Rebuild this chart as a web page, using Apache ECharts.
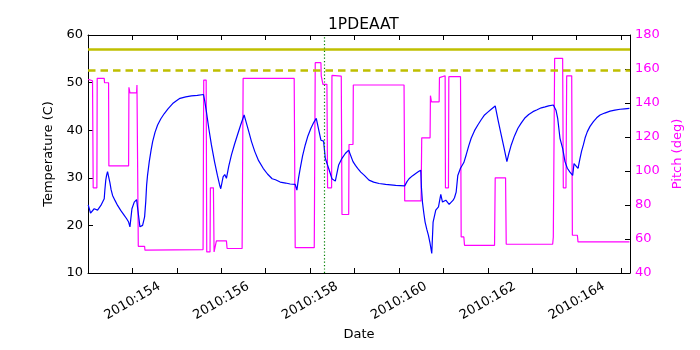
<!DOCTYPE html>
<html lang="en">
<head>
	<meta charset="UTF-8">
	<title>1PDEAAT</title>
	<script src="https://cdn.jsdelivr.net/npm/echarts@6/dist/echarts.min.js"></script>
	<style>
		* { margin: 0; padding: 0; }
		#container { width: 700px; height: 350px; background: #fff; }
	</style>
</head>
<body>
<div id="container"></div>
<script type="text/javascript">
	// day of year 2010 (fractional) -> temperature (C)
	var tempTime = [153.005, 153.057, 153.139, 153.215, 153.290, 153.365, 153.380, 153.400, 153.418, 153.440,
		153.462, 153.493, 153.520, 153.553, 153.610, 153.666, 153.740, 153.816, 153.870, 153.914,
		153.944, 153.989, 154.041, 154.094, 154.124, 154.169, 154.229, 154.274, 154.300, 154.319,
		154.340, 154.379, 154.420, 154.455, 154.510, 154.567, 154.640, 154.718, 154.800, 154.906,
		154.990, 155.071, 155.200, 155.327, 155.460, 155.600, 155.630, 155.665, 155.720, 155.778,
		155.850, 155.913, 155.960, 155.988, 156.041, 156.078, 156.116, 156.170, 156.229, 156.300,
		156.364, 156.440, 156.514, 156.550, 156.619, 156.680, 156.755, 156.840, 156.943, 157.040,
		157.145, 157.220, 157.326, 157.450, 157.550, 157.664, 157.702, 157.740, 157.777, 157.830,
		157.890, 157.950, 158.018, 158.080, 158.138, 158.243, 158.303, 158.341, 158.416, 158.491,
		158.567, 158.604, 158.642, 158.717, 158.792, 158.868, 158.965, 159.020, 159.070, 159.140,
		159.221, 159.325, 159.430, 159.551, 159.700, 159.926, 160.129, 160.180, 160.227, 160.300,
		160.377, 160.440, 160.490, 160.505, 160.528, 160.560, 160.588, 160.625, 160.663, 160.700,
		160.738, 160.768, 160.828, 160.889, 160.941, 160.979, 161.054, 161.129, 161.220, 161.249,
		161.287, 161.324, 161.384, 161.414, 161.460, 161.512, 161.570, 161.625, 161.700, 161.775,
		161.850, 161.926, 162.000, 162.076, 162.166, 162.230, 162.301, 162.360, 162.429, 162.470,
		162.527, 162.600, 162.677, 162.750, 162.827, 162.920, 163.015, 163.110, 163.203, 163.290,
		163.368, 163.474, 163.489, 163.534, 163.572, 163.624, 163.684, 163.737, 163.789, 163.849,
		163.910, 163.940, 163.985, 164.030, 164.075, 164.110, 164.150, 164.190, 164.240, 164.300,
		164.376, 164.450, 164.526, 164.630, 164.752, 164.860, 164.977, 165.080, 165.187];
	var tempVal = [24.3, 22.6, 23.5, 23.2, 24.2, 25.6, 27.5, 29.5, 30.5, 31.3,
		31.7, 29.0, 27.5, 26.3, 25.2, 24.2, 23.1, 22.1, 21.4, 20.7,
		19.7, 23.5, 24.9, 25.4, 25.0, 19.7, 20.0, 21.8, 25.0, 28.4,
		30.5, 33.4, 35.8, 37.6, 39.6, 41.1, 42.4, 43.5, 44.5, 45.6,
		46.2, 46.7, 47.0, 47.2, 47.3, 47.5, 46.0, 43.9, 40.3, 36.9,
		33.3, 30.5, 28.6, 27.7, 30.2, 30.7, 29.9, 32.5, 34.8, 37.1,
		39.0, 41.2, 43.2, 42.0, 39.7, 37.6, 35.5, 33.6, 32.0, 30.8,
		29.8, 29.6, 29.1, 28.9, 28.7, 28.6, 27.4, 30.0, 32.0, 34.6,
		36.9, 38.8, 40.4, 41.6, 42.5, 37.9, 37.7, 34.1, 32.0, 29.8,
		29.3, 29.2, 32.7, 34.1, 35.1, 35.8, 33.4, 32.6, 32.0, 31.2,
		30.5, 29.5, 29.1, 28.8, 28.6, 28.4, 28.3, 29.2, 29.8, 30.4,
		30.9, 31.3, 31.6, 28.0, 24.9, 22.5, 20.7, 19.2, 17.9, 16.2,
		14.1, 20.7, 23.2, 23.9, 26.5, 24.9, 25.3, 24.4, 25.3, 25.8,
		27.0, 30.5, 32.0, 31.7, 33.2, 34.8, 36.7, 38.3, 39.9, 41.1,
		42.2, 43.2, 43.8, 44.4, 45.1, 42.1, 39.0, 36.5, 33.4, 35.0,
		36.9, 38.8, 40.4, 41.5, 42.5, 43.3, 43.9, 44.3, 44.7, 44.9,
		45.1, 45.3, 45.1, 44.2, 42.5, 38.3, 36.2, 33.4, 32.0, 31.2,
		30.5, 33.0, 33.0, 32.0, 34.1, 35.6, 36.9, 38.4, 39.7, 40.8,
		41.8, 42.6, 43.2, 43.6, 44.0, 44.2, 44.4, 44.5, 44.6];

	// day of year 2010 (fractional) -> pitch (deg), step-like
	var pitchTime = [153.005, 153.102, 153.117, 153.117, 153.200, 153.207, 153.365, 153.372, 153.463, 153.470,
		153.914, 153.921, 153.944, 154.094, 154.102, 154.125, 154.132, 154.274, 154.282, 155.590,
		155.605, 155.660, 155.673, 155.747, 155.755, 155.823, 155.838, 155.875, 155.890, 156.116,
		156.131, 156.469, 156.492, 157.641, 157.664, 158.093, 158.115, 158.243, 158.250, 158.283,
		158.288, 158.378, 158.393, 158.483, 158.491, 158.701, 158.717, 158.868, 158.875, 158.965,
		158.972, 160.114, 160.129, 160.497, 160.512, 160.700, 160.708, 160.731, 160.904, 160.911,
		160.949, 161.039, 161.046, 161.114, 161.122, 161.385, 161.400, 161.460, 161.475, 162.151,
		162.166, 162.399, 162.414, 163.459, 163.474, 163.497, 163.504, 163.684, 163.699, 163.759,
		163.775, 163.888, 163.903, 164.015, 164.030, 165.187];
	var pitchVal = [153.9, 153.1, 153.1, 90.1, 90.1, 154.5, 154.5, 151.9, 151.9, 103,
		103, 149.2, 146, 146, 150.6, 150.6, 55.7, 55.7, 53.4, 53.8,
		153.5, 153.5, 52.4, 52.4, 90.1, 90.1, 52.4, 52.4, 58.9, 58.9,
		54.4, 54.4, 154.5, 154.5, 54.9, 54.9, 163.7, 163.7, 156, 156,
		151, 151, 90.1, 90.1, 156.2, 155.8, 74.4, 74.4, 115.6, 115.6,
		150.6, 150.6, 82.4, 82.4, 119.5, 119.5, 144.3, 140.7, 140.7, 154.9,
		156, 156, 90.1, 90.1, 155.5, 155.5, 61.2, 61.2, 56.3, 56.3,
		96.0, 96.0, 56.9, 56.9, 61.2, 61.2, 166.3, 166.3, 90.1, 90.1,
		156, 156, 62.2, 62.2, 58.3, 58.3];

	var limitSolid = 57;      // yellow solid line
	var limitDashed = 52.5;   // yellow dashed line
	var markerDay = 158.325;  // green dotted line

	function zip(a, b) {
		var out = [];
		for (var i = 0; i < a.length; i++) out.push([a[i], b[i]]);
		return out;
	}

	var font = 'DejaVu Sans';
	var myChart = echarts.init(document.getElementById('container'), null, {renderer: 'canvas'});

	var dayLabel = function (v) {
		var r = Math.round(v);
		if (Math.abs(v - r) > 1e-6 || r % 2 !== 0) return '';
		return '2010:' + r;
	};

	var option = {
		animation: false,
		backgroundColor: '#fff',
		textStyle: {fontFamily: font},
		title: {
			text: '1PDEAAT',
			left: 323,
			top: 12,
			textStyle: {fontFamily: font, fontSize: 15.5, fontWeight: 'normal', color: '#000'}
		},
		grid: {left: 88, right: 70, top: 35, bottom: 77},
		xAxis: [{
			type: 'value',
			min: 153,
			max: 165.2,
			interval: 1,
			name: 'Date',
			nameLocation: 'middle',
			nameGap: 53,
			nameTextStyle: {fontFamily: font, fontSize: 13, color: '#000'},
			axisLine: {lineStyle: {color: '#000', width: 1}},
			axisTick: {inside: true, length: 5, lineStyle: {color: '#000'}},
			splitLine: {show: false},
			axisLabel: {
				formatter: dayLabel, rotate: 30, align: 'center', verticalAlign: 'middle',
				margin: 28, fontFamily: font, fontSize: 13, color: '#000',
				showMinLabel: true, showMaxLabel: true
			}
		}, {
			type: 'value',
			position: 'top',
			min: 153,
			max: 165.2,
			interval: 1,
			axisLine: {lineStyle: {color: '#000', width: 1}},
			axisTick: {inside: true, length: 5, lineStyle: {color: '#000'}},
			splitLine: {show: false},
			axisLabel: {show: false}
		}],
		yAxis: [{
			type: 'value',
			min: 10,
			max: 60,
			interval: 10,
			name: 'Temperature (C)',
			nameLocation: 'middle',
			nameGap: 31,
			nameTextStyle: {fontFamily: font, fontSize: 13, color: '#000'},
			axisLine: {show: true, lineStyle: {color: '#000', width: 1}},
			axisTick: {show: true, inside: true, length: 5, lineStyle: {color: '#000'}},
			splitLine: {show: false},
			axisLabel: {margin: 5, fontFamily: font, fontSize: 13, color: '#000'}
		}, {
			type: 'value',
			position: 'right',
			min: 40,
			max: 180,
			interval: 20,
			name: 'Pitch (deg)',
			nameLocation: 'middle',
			nameGap: 37,
			nameTextStyle: {fontFamily: font, fontSize: 13, color: '#ff00ff'},
			axisLine: {show: true, lineStyle: {color: '#000', width: 1}},
			axisTick: {show: true, inside: true, length: 5, lineStyle: {color: '#000'}},
			splitLine: {show: false},
			axisLabel: {margin: 5, fontFamily: font, fontSize: 13, color: '#ff00ff'}
		}],
		series: [
			{
				name: 'limits',
				type: 'line',
				xAxisIndex: 0,
				yAxisIndex: 0,
				data: [],
				silent: true,
				markLine: {
					symbol: 'none',
					silent: true,
					animation: false,
					label: {show: false},
					data: [
						{yAxis: limitSolid, lineStyle: {color: '#bfbf00', width: 2.6, type: 'solid'}},
						{yAxis: limitDashed, lineStyle: {color: '#bfbf00', width: 2.6, type: [7.5, 5]}},
						{xAxis: markerDay, lineStyle: {color: '#008000', width: 1.2, type: [1.2, 2.2]}}
					]
				}
			},
			{
				name: 'pitch',
				type: 'line',
				xAxisIndex: 0,
				yAxisIndex: 1,
				data: zip(pitchTime, pitchVal),
				showSymbol: false,
				symbol: 'none',
				lineStyle: {color: '#ff00ff', width: 1.2},
				z: 3
			},
			{
				name: 'temperature',
				type: 'line',
				xAxisIndex: 0,
				yAxisIndex: 0,
				data: zip(tempTime, tempVal),
				showSymbol: false,
				symbol: 'none',
				lineStyle: {color: '#0000ff', width: 1.2},
				z: 4
			}
		]
	};

	myChart.setOption(option);
</script>
</body>
</html>
